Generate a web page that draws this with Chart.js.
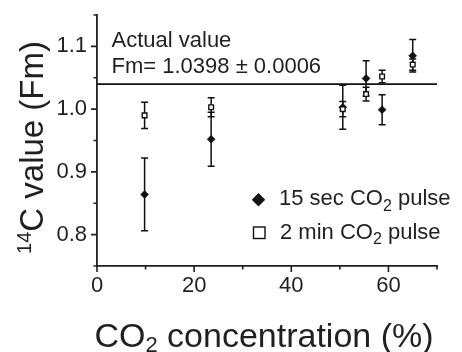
<!DOCTYPE html>
<html>
<head>
<meta charset="utf-8">
<script src="https://cdn.jsdelivr.net/npm/chart.js@4.4.1/dist/chart.umd.min.js"></script>
<style>
  html, body { margin: 0; padding: 0; background: #fff; }
  #wrap { width: 462px; height: 352px; }
</style>
</head>
<body>
<div id="wrap"><canvas id="chart" width="462" height="352"></canvas></div>
<script>
// --- values ---
const co2Percent = [9.8, 23.5, 50.6, 55.4, 58.7, 65.0];
const fm15sec = [0.864, 0.952, 1.003, 1.049, 0.999, 1.085];
const err15sec = [0.058, 0.043, 0.035, 0.028, 0.024, 0.026];
const fm2min = [0.990, 1.003, 1.000, 1.024, 1.052, 1.071];
const err2min = [0.021, 0.015, 0.012, 0.011, 0.010, 0.009];
const actualFm = 1.0398;
const xTicks = [0, 10, 20, 30, 40, 50, 60, 70];
const xLabelled = [0, 20, 40, 60];
const yTicks = [0.75, 0.8, 0.85, 0.9, 0.95, 1.0, 1.05, 1.1, 1.15];
const yLabelled = [0.8, 0.9, 1.0, 1.1];

const TEXT = '#231f20';
const FAMILY = '"Liberation Sans", Arial, Helvetica, sans-serif';

function font(px) { return px + 'px ' + FAMILY; }

function isLabelled(list, v) {
  return list.some(t => Math.abs(t - v) < 1e-6);
}

// draw a row of [text, size, dy] pieces along one baseline
function drawRuns(ctx, runs, x, y) {
  runs.forEach(r => {
    ctx.font = font(r[1]);
    ctx.fillText(r[0], x, y + (r[2] || 0));
    x += ctx.measureText(r[0]).width;
  });
  return x;
}

function runsWidth(ctx, runs) {
  let w = 0;
  runs.forEach(r => {
    ctx.font = font(r[1]);
    w += ctx.measureText(r[0]).width;
  });
  return w;
}

// --- error bars, drawn under the markers ---
const errorBars = {
  id: 'errorBars',
  beforeDatasetsDraw(chart) {
    const ctx = chart.ctx;
    const xs = chart.scales.x, ys = chart.scales.y;
    const sets = [[fm15sec, err15sec], [fm2min, err2min]];
    ctx.save();
    ctx.strokeStyle = '#111';
    ctx.lineWidth = 1.5;
    sets.forEach(([vals, errs]) => {
      vals.forEach((v, i) => {
        const px = xs.getPixelForValue(co2Percent[i]);
        const top = ys.getPixelForValue(v + errs[i]);
        const bot = ys.getPixelForValue(v - errs[i]);
        ctx.beginPath();
        ctx.moveTo(px, top); ctx.lineTo(px, bot);
        ctx.moveTo(px - 3.5, top); ctx.lineTo(px + 3.5, top);
        ctx.moveTo(px - 3.5, bot); ctx.lineTo(px + 3.5, bot);
        ctx.stroke();
      });
    });
    ctx.restore();
  }
};

// --- tick marks, titles, note and legend ---
const decorations = {
  id: 'decorations',
  afterDraw(chart) {
    const ctx = chart.ctx;
    const xs = chart.scales.x, ys = chart.scales.y;
    const area = chart.chartArea;
    ctx.save();
    ctx.strokeStyle = TEXT;
    ctx.lineWidth = 1.6;
    ctx.beginPath();
    xTicks.forEach(v => {
      const px = xs.getPixelForValue(v);
      const len = isLabelled(xLabelled, v) ? 6 : 3.5;
      ctx.moveTo(px, area.bottom); ctx.lineTo(px, area.bottom + len);
    });
    yTicks.forEach(v => {
      const py = ys.getPixelForValue(v);
      const len = isLabelled(yLabelled, v) ? 6 : 3.5;
      ctx.moveTo(area.left - len, py); ctx.lineTo(area.left, py);
    });
    ctx.stroke();

    ctx.fillStyle = TEXT;
    ctx.textBaseline = 'alphabetic';
    ctx.textAlign = 'left';

    // x axis title
    const xRuns = [['CO', 34], ['2', 22, 5], [' concentration (%)', 34]];
    const xw = runsWidth(ctx, xRuns);
    drawRuns(ctx, xRuns, (area.left + area.right) / 2 - xw / 2 - 3, 346.5);

    // y axis title, rotated
    const yRuns = [['14', 20, -12], ['C value (Fm)', 33]];
    const yw = runsWidth(ctx, yRuns);
    ctx.save();
    ctx.translate(43, 147.5);
    ctx.rotate(-Math.PI / 2);
    drawRuns(ctx, yRuns, -yw / 2, 0);
    ctx.restore();

    // note about the reference line
    drawRuns(ctx, [['Actual value', 22]], 111.5, 46.5);
    drawRuns(ctx, [['Fm= ' + actualFm.toFixed(4) + ' \u00b1 0.0006', 22]], 111.5, 72.5);

    // legend
    ctx.fillStyle = '#111';
    ctx.beginPath();
    ctx.moveTo(258.5, 193); ctx.lineTo(265.2, 199.7);
    ctx.lineTo(258.5, 206.4); ctx.lineTo(251.8, 199.7);
    ctx.closePath();
    ctx.fill();
    ctx.strokeStyle = '#111';
    ctx.lineWidth = 1.4;
    ctx.strokeRect(253.5, 227, 11.5, 11.5);
    ctx.fillStyle = TEXT;
    drawRuns(ctx, [['15 sec CO', 22], ['2', 16, 5.5], [' pulse', 22]], 279, 205);
    drawRuns(ctx, [['2 min CO', 22], ['2', 16, 5.5], [' pulse', 22]], 280, 238.5);
    ctx.restore();
  }
};

const tickFont = { family: FAMILY, size: 22 };

new Chart(document.getElementById('chart'), {
  type: 'scatter',
  data: {
    datasets: [
      {
        label: 'Actual value',
        type: 'line',
        data: [{ x: 0, y: actualFm }, { x: 70, y: actualFm }],
        borderColor: '#111',
        borderWidth: 1.8,
        pointRadius: 0,
        order: 3
      },
      {
        label: '15 sec CO2 pulse',
        data: co2Percent.map((x, i) => ({ x: x, y: fm15sec[i] })),
        pointStyle: 'rectRot',
        pointRadius: 4,
        backgroundColor: '#111',
        borderColor: '#111',
        borderWidth: 0.5,
        order: 2
      },
      {
        label: '2 min CO2 pulse',
        data: co2Percent.map((x, i) => ({ x: x, y: fm2min[i] })),
        pointStyle: 'rect',
        pointRadius: 3.3,
        backgroundColor: '#fff',
        borderColor: '#111',
        borderWidth: 1.4,
        order: 1
      }
    ]
  },
  options: {
    responsive: false,
    devicePixelRatio: 1,
    animation: false,
    layout: { padding: { top: 15, right: 25, left: 0, bottom: 0 } },
    plugins: {
      legend: { display: false },
      tooltip: { enabled: false }
    },
    scales: {
      x: {
        type: 'linear',
        position: 'bottom',
        min: 0,
        max: 70,
        grid: { display: false, drawTicks: false },
        border: { display: true, color: TEXT, width: 1.8 },
        afterBuildTicks: s => { s.ticks = xTicks.map(v => ({ value: v })); },
        afterFit: s => { s.height = 86; s.paddingLeft = 0; s.paddingRight = 0; },
        ticks: {
          font: tickFont,
          color: TEXT,
          padding: 7,
          maxRotation: 0,
          autoSkip: false,
          callback: v => isLabelled(xLabelled, v) ? String(v) : ''
        }
      },
      y: {
        type: 'linear',
        min: 0.75,
        max: 1.15,
        grid: { display: false, drawTicks: false },
        border: { display: true, color: TEXT, width: 1.8 },
        afterBuildTicks: s => { s.ticks = yTicks.map(v => ({ value: v })); },
        afterFit: s => { s.width = 97; s.paddingTop = 0; s.paddingBottom = 0; },
        ticks: {
          font: tickFont,
          color: TEXT,
          padding: 10,
          autoSkip: false,
          callback: v => isLabelled(yLabelled, v) ? v.toFixed(1) : ''
        }
      }
    }
  },
  plugins: [errorBars, decorations]
});
</script>
</body>
</html>
